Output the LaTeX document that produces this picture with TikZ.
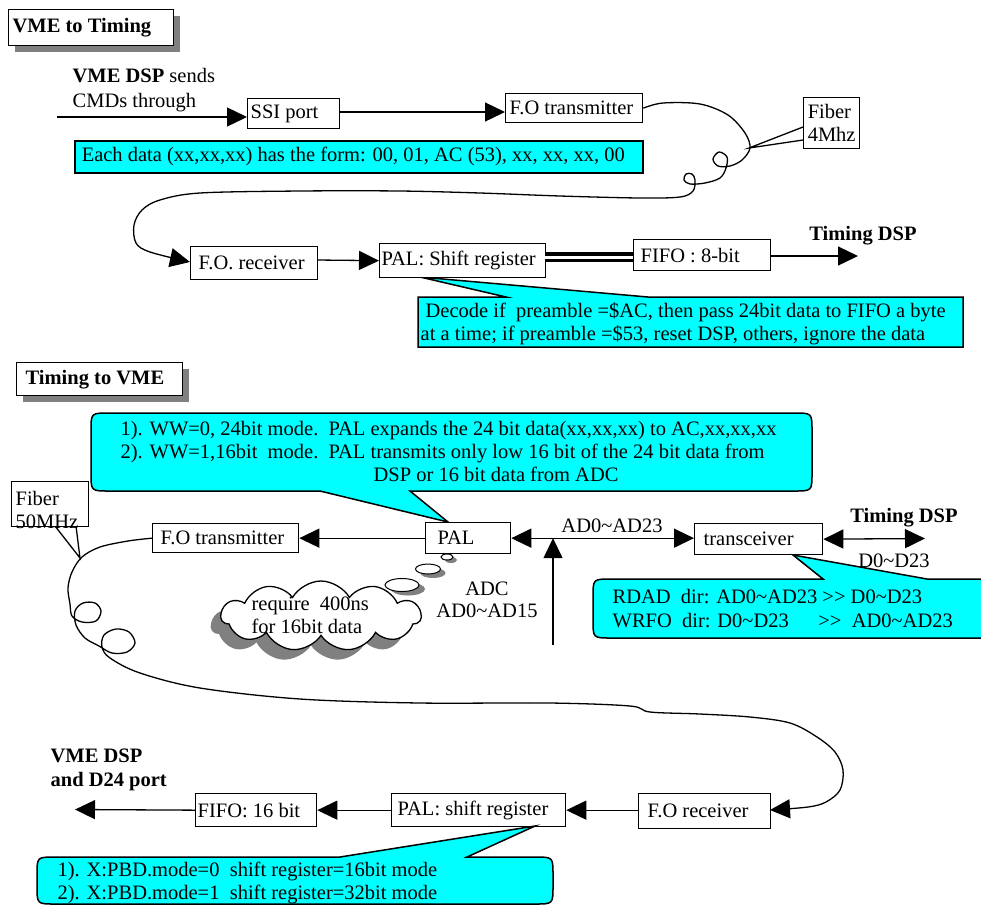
\documentclass[tikz,border=0pt]{standalone}
\usepackage{fontspec}
\setmainfont{Liberation Serif}
\usetikzlibrary{arrows.meta,shapes.symbols,shapes.geometric,shadows}
\definecolor{callcyan}{RGB}{0,255,255}
\definecolor{shgray}{RGB}{128,128,128}
\newcommand\mkbox[8][]{%
  \pgfmathsetmacro\myBW{#5-#3}\pgfmathsetmacro\myBH{#6-#4}%
  \node[bx,minimum width=\myBW pt,minimum height=\myBH pt,#1] (#2) at (#3,#4) {\makebox[\myBW pt][l]{\hspace*{#7pt}#8}};}
\newcommand\gtgt{{>}{>}}
\begin{document}
\begin{tikzpicture}[x=1pt,y=-1pt,line width=1.3pt,
  font=\fontsize{20.5}{23}\selectfont,
  bx/.style={draw,fill=white,inner sep=0pt,anchor=north west},
  shbox/.style={drop shadow={shadow xshift=6pt,shadow yshift=-6pt,fill=shgray,opacity=1}},
  tip/.style={-{Triangle[length=20pt,width=19pt]}},
  bitip/.style={{Triangle[length=20pt,width=19pt]}-{Triangle[length=20pt,width=19pt]}},
  callout/.style={draw,fill=callcyan,line width=1.5pt},
  lbl/.style={inner sep=0pt,align=left,anchor=north west},
  bold/.style={font=\fontsize{20.5}{24}\selectfont\bfseries},
  plain/.style={inner sep=0pt},
]
\useasboundingbox (0,0) rectangle (981,906);
\clip (0,0) rectangle (981,906);

% ================= VME to Timing =================
\mkbox[shbox,bold]{title1}{8}{9}{173}{45}{4}{VME to Timing}

\node[lbl] (src) at (72,68) {\textbf{VME DSP} sends\\[2pt]CMDs through};
\coordinate (in1) at (57,117);

\mkbox{ssi}{247}{98}{339}{128}{3}{SSI port}
\mkbox{fot1}{505}{93}{642}{122}{4}{F.O transmitter}
\mkbox[callout]{each}{74}{140}{642}{172}{7}{Each data (xx,xx,xx) has the form: 00, 01, AC (53), xx, xx, xx, 00}

\draw[tip] (in1) -- (in1 -| ssi.west);
\draw[tip] (339,112) -- (505,112);

% fiber 4Mhz pointer and box
\coordinate (fap1) at (749,148);
\draw (803,127) -- (fap1) -- (803,140);
\node[draw,fill=white,inner sep=2pt,align=left,anchor=north west,minimum width=56pt,minimum height=51pt] (fib1) at (803,97) {Fiber\\4Mhz};

% fiber loop 1
\draw[tip] plot[smooth,tension=0.55] coordinates {(fot1.east) (663,103) (700,104) (728,115) (745,133) (750,148) (742,160) (730,166) (718,166) (713,159) (719,152) (727,157) (726,168) (720,178) (705,183) (690,184) (684,180) (686,174) (692,174) (695,180) (693,191) (680,197) (640,198) (560,196) (480,193) (400,191) (300,191) (200,193) (160,200) (142,210) (134,225) (136,243) (150,252) (190,262)};

% decode callout
\coordinate (ap1) at (420,277);
\draw[callout] (418,297) -- (506,297) -- (ap1) -- (648,297) -- (963,297) -- (963,347) -- (418,347) -- cycle;
\node[lbl] (dectext) at (420,302) {\hspace*{5pt}Decode if\ \ preamble =\$AC, then pass 24bit data to FIFO a byte\\at a time; if preamble =\$53, reset DSP, others, ignore the data};

\mkbox{forx1}{190}{246}{317}{279}{8}{F.O. receiver}
\mkbox{pal1}{379}{243}{545}{277}{2}{PAL: Shift register}
\mkbox{fifo1}{633}{239}{770}{270}{7}{FIFO : 8-bit}

\draw[tip] (317,260) -- (pal1.west);
\draw[line width=10pt] (545,257) -- (633,257);
\draw[line width=3pt,white] (545,257) -- (633,257);
\coordinate (out1) at (858,256);
\draw[tip] (fifo1.east |- out1) -- (out1);
\node[bold,plain] (tdsp1) at (863,236) {Timing DSP};

% ================= Timing to VME =================
\mkbox[shbox,bold]{title2}{16}{362}{182}{395}{9}{Timing to VME}

% top callout
\coordinate (ap2) at (448,522);
\draw[callout] (109,413) -- (794,413) .. controls (812,413) .. (812,431) -- (812,473) .. controls (812,491) .. (794,491) -- (410,491) -- (ap2) -- (320,491) -- (109,491) .. controls (91,491) .. (91,473) -- (91,431) .. controls (91,413) .. (109,413) -- cycle;
\node[lbl] (wwtext) at (120,421) {1). WW=0, 24bit mode.\ \ PAL expands the 24 bit data(xx,xx,xx) to AC,xx,xx,xx\\2). WW=1,16bit\ \ mode.\ \ PAL transmits only low 16 bit of the 24 bit data from\\\hspace*{253pt}DSP or 16 bit data from ADC};

% fiber 50MHz
\coordinate (fap2) at (80,558);
\draw (55,526) -- (fap2) -- (76,526);
\node[draw,fill=white,inner sep=0pt,anchor=north west,minimum width=77pt,minimum height=45pt] (fib2) at (11,481) {};
\node[lbl] (fib2t) at (15,491) {Fiber\\50MHz};

\mkbox{fot2}{152}{523}{298}{552}{8}{F.O transmitter}
\mkbox{pal2}{425}{522}{510}{553}{12}{PAL}
\mkbox{trx}{694}{523}{822}{554}{9}{transceiver}

\draw[tip] (pal2.west) -- (pal2.west -| fot2.east);
\draw[bitip] (pal2.east) -- (pal2.east -| trx.west);
\node[plain] (busl) at (612,526) {AD0\textasciitilde AD23};
\coordinate (adc) at (553,645);
\draw[tip] (adc) -- (adc |- pal2.east);
\node[plain] (adcl) at (487,589) {ADC};
\node[plain] (adcl2) at (487,611) {AD0\textasciitilde AD15};
\coordinate (tdsp2c) at (925,538.5);
\draw[bitip] (trx.east) -- (tdsp2c);
\node[bold,plain] (tdsp2) at (904,518) {Timing DSP};
\node[plain] (d023) at (894,561) {D0\textasciitilde D23};

% transceiver callout
\coordinate (ap3) at (793,555);
\draw[callout] (611,579) -- (823,579) -- (ap3) -- (927,579) -- (982,579) .. controls (1000,579) .. (1000,597) -- (1000,620) .. controls (1000,638) .. (982,638) -- (611,638) .. controls (593,638) .. (593,620) -- (593,597) .. controls (593,579) .. (611,579) -- cycle;
\node[lbl] (trxtext) at (612,589) {RDAD\ \ dir: AD0\textasciitilde AD23 \gtgt{} D0\textasciitilde D23\\[1pt]WRFO\ \ dir: \makebox[101pt][l]{D0\textasciitilde D23}\gtgt\ \ AD0\textasciitilde AD23};

% thought cloud
\node[cloud,cloud puffs=11,cloud puff arc=120,cloud ignores aspect,fill=shgray,minimum width=200pt,minimum height=70pt] (cloudsh) at (311,626) {};
\node[cloud,cloud puffs=11,cloud puff arc=120,cloud ignores aspect,draw,fill=white,minimum width=200pt,minimum height=70pt] (cloud) at (321,616) {};
\node[lbl] (cloudt) at (251,596) {require\ \ 400ns\\for 16bit data};
\node[ellipse,fill=shgray,minimum width=12pt,minimum height=6pt,inner sep=0pt] (b1s) at (451,560) {};
\node[ellipse,draw,line width=1pt,fill=white,minimum width=12pt,minimum height=6pt,inner sep=0pt] (b1) at (447,557) {};
\node[ellipse,fill=shgray,minimum width=25pt,minimum height=10pt,inner sep=0pt] (b2s) at (433,573) {};
\node[ellipse,draw,line width=1pt,fill=white,minimum width=25pt,minimum height=10pt,inner sep=0pt] (b2) at (428,569) {};
\node[ellipse,fill=shgray,minimum width=34pt,minimum height=13pt,inner sep=0pt] (b3s) at (408,589) {};
\node[ellipse,draw,line width=1pt,fill=white,minimum width=34pt,minimum height=13pt,inner sep=0pt] (b3) at (402,585) {};

% long fiber
\draw[tip] plot[smooth,tension=0.55] coordinates {(fot2.west) (128,541) (100,547) (82,557) (72,572) (68,588) (70,604) (72,616) (82,622) (96,621) (101,611) (95,603) (83,603) (75,611) (76,625) (85,638) (99,646) (112,653) (127,652) (135,643) (129,632) (116,629) (104,635) (102,647) (110,658) (140,673) (200,688) (300,699) (420,703) (550,703) (630,706) (650,712) (700,714) (750,717) (790,723) (817,737) (835,752) (843,770) (840,790) (826,802) (808,807) (770,810)};

% bottom row
\node[lbl,bold] (vmedsp) at (50,748) {VME DSP\\and D24 port};
\mkbox{fifo3}{195}{793}{316}{826}{2}{FIFO: 16 bit}
\mkbox{pal3}{391}{793}{565}{826}{6}{PAL: shift register}
\mkbox{forx2}{638}{793}{770}{828}{9}{F.O receiver}
\coordinate (out3) at (75,809.5);
\draw[tip] (forx2.west |- pal3.east) -- (pal3.east);
\draw[tip] (pal3.west) -- (fifo3.east);
\draw[tip] (fifo3.west) -- (out3);

% bottom callout
\coordinate (ap4) at (535,826);
\draw[callout] (55,857) -- (340,857) -- (ap4) -- (467,857) -- (535,857) .. controls (553,857) .. (553,875) -- (553,886) .. controls (553,904) .. (535,904) -- (55,904) .. controls (37,904) .. (37,886) -- (37,875) .. controls (37,857) .. (55,857) -- cycle;
\node[lbl] (pbdtext) at (57,861) {1). X:PBD.mode=0\ \ shift register=16bit mode\\2). X:PBD.mode=1\ \ shift register=32bit mode};
\end{tikzpicture}
\end{document}
